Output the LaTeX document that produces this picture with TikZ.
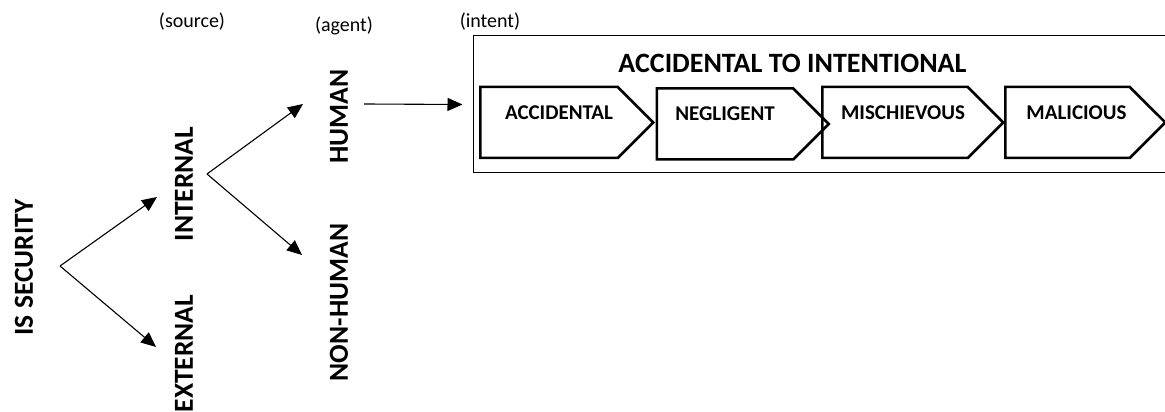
\documentclass[tikz,border=0pt]{standalone}
\usepackage{fontspec}
\setmainfont{Carlito}
\usetikzlibrary{arrows.meta,shapes.symbols}
\tikzset{
  lbl/.style={rotate=90,inner sep=0pt,font=\fontsize{27.5}{30}\selectfont\bfseries},
  note/.style={inner sep=0pt,font=\fontsize{20}{22}\selectfont},
  stage/.style={draw,line width=2.5pt,shape=signal,signal to=east,signal pointer angle=90,
    minimum height=71pt,inner sep=0pt,text height=14pt,text depth=20pt,
    font=\fontsize{21}{23}\selectfont\bfseries},
  arr/.style={-{Triangle[length=15pt,width=13pt]},line width=1.1pt}
}
\begin{document}
\begin{tikzpicture}[x=1pt,y=1pt]
      \useasboundingbox (0,0) rectangle (1165,412);
      \draw
        (192,390) node[note] (src) {(source)}
        (344,386) node[note] (agt) {(agent)}
        (490,390) node[note] (itn) {(intent)}
        (24,144.5) node[lbl] (sec) {IS SECURITY}
        (184,228) node[lbl] (int) {INTERNAL}
        (184,58.5) node[lbl] (ext) {EXTERNAL}
        (339,295.5) node[lbl] (hum) {HUMAN}
        (339,109.5) node[lbl] (non) {NON-HUMAN}
        (822.5,307.5) node[draw,line width=1pt,minimum width=699pt,minimum height=137pt] (box) {}
        (792.5,349) node[inner sep=0pt,font=\fontsize{28}{30}\selectfont\bfseries] (ttl) {ACCIDENTAL TO INTENTIONAL}
        (549,289.5) node[stage,minimum width=173pt] (acc) {\hspace*{20pt}ACCIDENTAL}
        (725,288) node[stage,minimum width=172pt] (neg) {NEGLIGENT}
        (895,289.5) node[stage,minimum width=181pt] (mis) {\hspace*{16pt}MISCHIEVOUS}
        (1067.5,289.5) node[stage,minimum width=160pt] (mal) {\hspace*{18pt}MALICIOUS}
        (60,146) coordinate (f1)
        (207,238) coordinate (f2);
      \begin{scope}[arr]
        \draw (f1) -- ([xshift=-27pt,yshift=-13pt]int.center);
        \draw (f1) -- ([xshift=-28pt,yshift=6.5pt]ext.center);
        \draw (f2) -- ([xshift=-36pt,yshift=12.5pt]hum.center);
        \draw (f2) -- ([xshift=-37pt,yshift=47.5pt]non.center);
        \draw ([xshift=25pt,yshift=12.5pt]hum.center) -- ([xshift=-10pt]box.west);
      \end{scope}
    \end{tikzpicture}
\end{document}
